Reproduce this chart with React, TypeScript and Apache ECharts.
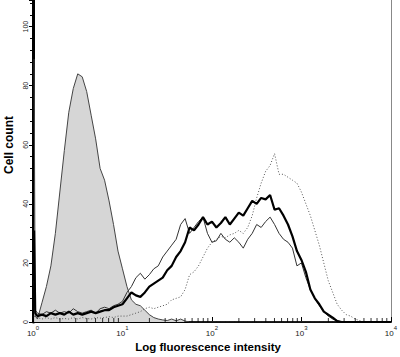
import React, { useEffect, useRef } from "react";
import * as echarts from "echarts";

// Channel positions in decades (log10 of intensity): edge channels, then 0.05-decade bins
const CHANNEL_DECADES: number[] = [0.012, 0.025];
for (let i = 1; i <= 80; i++) CHANNEL_DECADES.push(Math.round(i * 5) / 100);

// Isotype control (grey filled)
const CONTROL = [89, 2,
  1, 6.5, 12, 19, 30, 44, 58, 71, 79, 84,
  83, 78, 70, 62, 52, 48, 41, 33, 24, 18,
  12, 7.5, 6, 5.5, 4, 2.5, 1.5, 1, 0.7, 0.5,
  1, 0.4, 1, 0.3, 0, 0, 0, 0, 0, 0,
  0, 0, 0, 0, 0, 0, 0, 0, 0, 0,
  0, 0, 0, 0, 0, 0, 0, 0, 0, 0,
  0, 0, 0, 0, 0, 0, 0, 0, 0, 0,
  0, 0, 0, 0, 0, 0, 0, 0, 0, 0];

// Thin black line
const THIN = [14, 4,
  3, 2.5, 3.5, 3, 4, 3, 3.5, 3, 4.5, 3.5,
  3, 3.5, 4, 3, 4.5, 5, 4.5, 5.5, 6, 7,
  10, 12, 15, 16.5, 14.5, 16, 18, 19, 22, 24,
  26, 28, 33, 35, 30, 32, 34, 35.5, 30, 27,
  27.5, 30, 28, 27, 28.5, 27, 25, 28, 30, 33,
  32, 34, 35.5, 33, 30, 28, 27, 25, 19, 20,
  15, 11, 8, 5.5, 3.5, 2, 1, 0.5, 0, 0,
  0, 0, 0, 0, 0, 0, 0, 0, 0, 0];

// Thick black line
const THICK = [31, 3,
  2, 2.5, 2, 3, 2.5, 3, 2.5, 3.5, 2.5, 3,
  2.5, 3, 3.5, 3, 3.5, 4, 4, 5, 5.5, 6,
  8, 10, 9, 8.5, 10, 12, 13, 14, 15, 17.5,
  19, 22, 24, 27, 32, 31, 33, 35.5, 33, 34,
  32, 33.5, 35.5, 33, 35, 37, 36, 38.5, 41, 40,
  42, 41.5, 43, 38, 38.5, 36, 33, 29, 24, 21,
  17, 11, 8, 6, 3.5, 2.5, 1.5, 0.3, 0, 0,
  0, 0, 0, 0, 0, 0, 0, 0, 0, 0];

// Dotted line
const DOTTED = [2, 1.5,
  1.5, 1, 1.5, 1, 1.5, 1, 1.2, 1, 1.5, 1,
  1.5, 1.2, 1, 1.5, 1.3, 1.5, 1.8, 1.5, 2, 2,
  2, 2.5, 3, 3.5, 4.5, 5, 4.5, 5, 5.5, 6,
  7.5, 8, 8.5, 11, 16, 17, 19, 22, 25, 27,
  28, 29, 28.5, 29.5, 30, 31, 30, 32, 36, 42,
  47, 51, 53, 57, 50, 50, 49, 48, 47, 44,
  40, 36, 31, 26, 20, 14, 10, 6, 4, 2.5,
  2, 1, 0.5, 0, 0, 0, 0, 0, 0, 0];

const Y_TICKS = [0, 20, 40, 60, 80, 100];
const DECADES = [1, 10, 100, 1000];
const MINOR_MULTIPLIERS = [2, 3, 4, 5, 6, 7, 8, 9];
const MINOR_TICKS: number[] = [];
DECADES.forEach((d) => MINOR_MULTIPLIERS.forEach((m) => MINOR_TICKS.push(d * m)));

const FONT = "'Liberation Sans', Arial, Helvetica, sans-serif";

const toPairs = (vals: number[]) => vals.map((v, i) => [Math.pow(10, CHANNEL_DECADES[i]), v]);

export default function App() {
  const ref = useRef<HTMLDivElement>(null);
  useEffect(() => {
    if (!ref.current) return;
    const chart = echarts.init(ref.current, null, { renderer: "svg" });
    chart.setOption({
      animation: false,
      backgroundColor: "#ffffff",
      grid: { left: 33, right: 7, top: 0, bottom: 35, containLabel: false },
      xAxis: {
        type: "log",
        logBase: 10,
        min: 1,
        max: 10000,
        axisLine: { show: true, lineStyle: { color: "#000", width: 2 } },
        axisTick: { show: true, inside: true, length: 5, lineStyle: { color: "#000", width: 1 } },
        splitLine: { show: false },
        axisLabel: {
          margin: 3,
          formatter: (v: number) => `{b|10}{s|${Math.round(Math.log10(v))}}`,
          rich: {
            b: { fontSize: 8, fontFamily: FONT, color: "#222", verticalAlign: "bottom", lineHeight: 12 },
            s: { fontSize: 6, fontFamily: FONT, color: "#222", verticalAlign: "top", lineHeight: 12 },
          },
        },
      },
      yAxis: [
        {
          type: "value",
          min: 0,
          max: 109,
          interval: 20,
          axisLine: { show: true, lineStyle: { color: "#000", width: 3 } },
          axisTick: { show: true, length: 4, lineStyle: { color: "#000", width: 1 } },
          minorTick: { show: true, splitNumber: 5, length: 3, lineStyle: { color: "#000", width: 1 } },
          splitLine: { show: false },
          axisLabel: {
            showMaxLabel: false,
            rotate: 90,
            fontSize: 7,
            fontFamily: FONT,
            color: "#222",
            margin: 4,
            formatter: (v: number) => (Y_TICKS.includes(v) ? String(v) : ""),
          },
        },
        {
          type: "value",
          position: "right",
          min: 0,
          max: 1,
          axisLine: { show: true, lineStyle: { color: "#888", width: 1 } },
          axisTick: { show: false },
          axisLabel: { show: false },
          splitLine: { show: false },
        },
      ],
      series: [
        {
          type: "line",
          name: "control",
          data: toPairs(CONTROL),
          symbol: "none",
          lineStyle: { color: "#444", width: 1 },
          areaStyle: { color: "#d6d6d6", opacity: 1 },
          z: 1,
        },
        {
          type: "line",
          name: "dotted",
          data: toPairs(DOTTED),
          symbol: "none",
          lineStyle: { color: "#555", width: 1, type: [1, 2] },
          z: 2,
        },
        {
          type: "line",
          name: "thin",
          data: toPairs(THIN),
          symbol: "none",
          lineStyle: { color: "#333", width: 1 },
          z: 3,
        },
        {
          type: "line",
          name: "thick",
          data: toPairs(THICK),
          symbol: "none",
          lineStyle: { color: "#000", width: 2.2 },
          z: 4,
        },
        {
          type: "scatter",
          name: "minorTicks",
          data: MINOR_TICKS.map((t) => [t, 0]),
          symbol: "rect",
          symbolSize: [1, 4],
          symbolOffset: [0, -2],
          itemStyle: { color: "#000" },
          silent: true,
          z: 5,
        },
      ],
      graphic: [
        {
          type: "text",
          x: 208,
          y: 347,
          style: {
            text: "Log fluorescence intensity",
            font: `bold 11.5px ${FONT}`,
            fill: "#000",
            align: "center",
            verticalAlign: "middle",
          },
        },
        {
          type: "text",
          x: 9,
          y: 145,
          rotation: Math.PI / 2,
          style: {
            text: "Cell count",
            font: `bold 12px ${FONT}`,
            fill: "#000",
            align: "center",
            verticalAlign: "middle",
          },
        },
      ],
    });
    return () => chart.dispose();
  }, []);
  return (
    <div
      ref={ref}
      style={{ position: "fixed", left: 0, top: 0, width: 400, height: 357, background: "#fff" }}
    />
  );
}
